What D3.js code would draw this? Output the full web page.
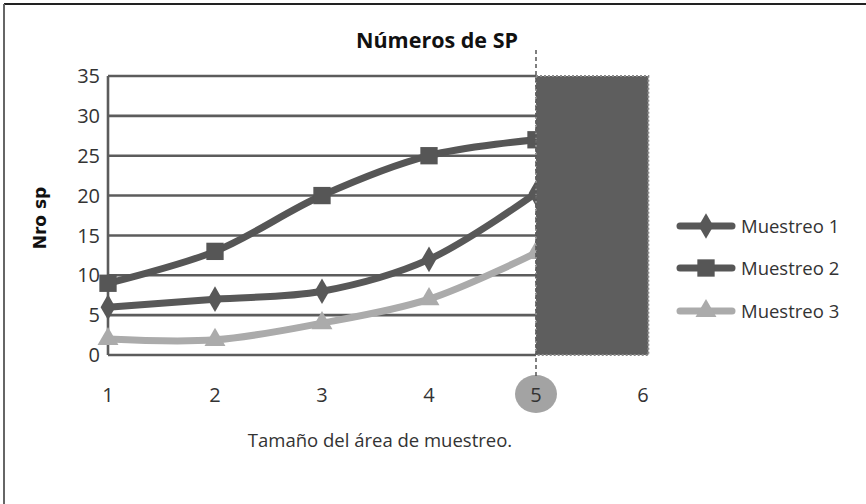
<!DOCTYPE html>
<html><head><meta charset="utf-8">
<script src="https://cdn.jsdelivr.net/npm/d3@7"></script>
<style>body{margin:0;background:#fff}svg{display:block}</style>
</head><body>
<svg id="c" width="866" height="504"></svg>
<script>
const categories = [1, 2, 3, 4, 5];
const xTicks = [1, 2, 3, 4, 5, 6];
const yTicks = [0, 5, 10, 15, 20, 25, 30, 35];
const muestreo1 = [6, 7, 8, 12, 20.3];
const muestreo2 = [9, 13, 20, 25, 27];
const muestreo3 = [2, 1.9, 4, 7, 12.8];
const seriesNames = ["Muestreo 1", "Muestreo 2", "Muestreo 3"];

const svg = d3.select("#c");
const font = "'Open Sans', sans-serif";
const x = d3.scaleLinear().domain([1, 6]).range([108, 643]);
const y = d3.scaleLinear().domain([0, 35]).range([355, 76]);

// frame
svg.append("line").attr("x1", 4).attr("x2", 866).attr("y1", 4).attr("y2", 4).attr("stroke", "#222").attr("stroke-width", 2);
svg.append("line").attr("x1", 4).attr("x2", 4).attr("y1", 4).attr("y2", 504).attr("stroke", "#666").attr("stroke-width", 2);

// gridlines
svg.append("g").selectAll("line").data(yTicks).join("line")
  .attr("x1", x(1)).attr("x2", x(5)).attr("y1", d => y(d)).attr("y2", d => y(d))
  .attr("stroke", "#5c5c5c").attr("stroke-width", 2.6);
svg.append("line").attr("x1", x(1)).attr("x2", x(1)).attr("y1", y(35)).attr("y2", y(0))
  .attr("stroke", "#5c5c5c").attr("stroke-width", 2.6);

// y tick labels
svg.append("g").selectAll("text").data(yTicks).join("text")
  .attr("x", 100).attr("y", d => y(d)).attr("dy", "0.36em").attr("text-anchor", "end")
  .attr("font-family", font).attr("font-size", 20).attr("fill", "#333").text(d => d);

// x tick labels with highlight
svg.append("ellipse").attr("cx", x(5)).attr("cy", 394).attr("rx", 21).attr("ry", 19).attr("fill", "#a3a3a3");
svg.append("g").selectAll("text").data(xTicks).join("text")
  .attr("x", d => x(d)).attr("y", 395).attr("dy", "0.36em").attr("text-anchor", "middle")
  .attr("font-family", font).attr("font-size", 20).attr("fill", "#333").text(d => d);

// series
const series = [
  {name: seriesNames[0], vals: muestreo1, color: "#585858", sym: d3.symbolDiamond, size: 190},
  {name: seriesNames[1], vals: muestreo2, color: "#565656", sym: d3.symbolSquare, size: 300},
  {name: seriesNames[2], vals: muestreo3, color: "#ababab", sym: d3.symbolTriangle, size: 190}
];
const line = d3.line().x((d, i) => x(categories[i])).y(d => y(d)).curve(d3.curveCatmullRom.alpha(0.5));
series.forEach(s => {
  svg.append("path").attr("d", line(s.vals)).attr("fill", "none").attr("stroke", s.color).attr("stroke-width", 7).attr("stroke-linejoin", "round");
  svg.append("g").selectAll("path").data(s.vals).join("path")
    .attr("transform", (d, i) => `translate(${x(categories[i])},${y(d)})`)
    .attr("d", d3.symbol().type(s.sym).size(s.size)).attr("fill", s.color);
});

// dark rectangle
svg.append("rect").attr("x", x(5)).attr("y", y(35)).attr("width", x(6.05) - x(5)).attr("height", y(0) - y(35))
  .attr("fill", "#5e5e5e").attr("stroke", "#8a8a8a").attr("stroke-width", 2).attr("stroke-dasharray", "2,2");
svg.append("line").attr("x1", x(5)).attr("x2", x(5)).attr("y1", 50).attr("y2", 376)
  .attr("stroke", "#555").attr("stroke-width", 1.5).attr("stroke-dasharray", "4,3");

// title
svg.append("text").attr("x", 437).attr("y", 40).attr("dy", "0.36em").attr("text-anchor", "middle")
  .attr("font-family", font).attr("font-weight", "bold").attr("font-size", 21.5).attr("fill", "#111").text("Números de SP");
// y title
svg.append("text").attr("transform", "translate(40,218) rotate(-90)").attr("dy", "0.36em").attr("text-anchor", "middle")
  .attr("font-family", "'DejaVu Sans', sans-serif").attr("font-weight", "bold").attr("font-size", 17).attr("fill", "#111").text("Nro sp");
// x title
svg.append("text").attr("x", 380).attr("y", 440).attr("dy", "0.36em").attr("text-anchor", "middle")
  .attr("font-family", font).attr("font-size", 18.5).attr("fill", "#333").text("Tamaño del área de muestreo.");

// legend
const legY = [226, 268, 311];
series.forEach((s, i) => {
  const g = svg.append("g").attr("transform", `translate(0,${legY[i]})`);
  g.append("line").attr("x1", 680).attr("x2", 732).attr("stroke", s.color).attr("stroke-width", 7).attr("stroke-linecap", "round");
  g.append("path").attr("transform", "translate(706,0)").attr("d", d3.symbol().type(s.sym).size(s.size)).attr("fill", s.color);
  g.append("text").attr("x", 741).attr("dy", "0.36em").attr("font-family", font).attr("font-size", 18.5).attr("fill", "#333").text(s.name);
});
</script>
</body></html>
